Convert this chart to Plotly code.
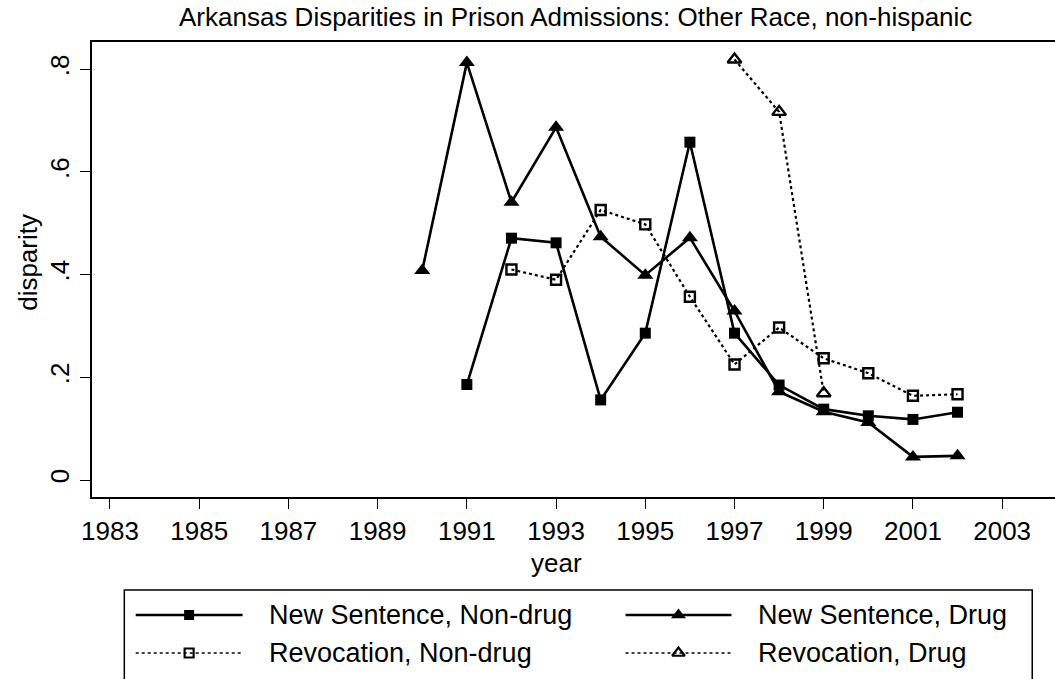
import plotly.graph_objects as go

# ---------------- data ----------------
years_ns_nd = [1991, 1992, 1993, 1994, 1995, 1996, 1997, 1998, 1999, 2000, 2001, 2002]
ns_nondrug = [0.186, 0.471, 0.462, 0.156, 0.286, 0.658, 0.286, 0.185, 0.138, 0.125, 0.118, 0.132]

years_ns_d = [1990, 1991, 1992, 1993, 1994, 1995, 1996, 1997, 1998, 1999, 2000, 2001, 2002]
ns_drug = [0.408, 0.813, 0.541, 0.687, 0.474, 0.399, 0.472, 0.329, 0.172, 0.133, 0.112, 0.045, 0.047]

years_rv_nd = [1992, 1993, 1994, 1995, 1996, 1997, 1998, 1999, 2000, 2001, 2002]
rv_nondrug = [0.410, 0.390, 0.526, 0.498, 0.357, 0.225, 0.297, 0.237, 0.208, 0.164, 0.167]

years_rv_d = [1997, 1998, 1999]
rv_drug = [0.819, 0.717, 0.169]

x_ticks = list(range(1983, 2004, 2))
y_ticks = [0, 0.2, 0.4, 0.6, 0.8]
y_tick_labels = ["0", ".2", ".4", ".6", ".8"]

series_names = ["New Sentence, Non-drug", "New Sentence, Drug",
                "Revocation, Non-drug", "Revocation, Drug"]

# ---------------- layout helpers ----------------
W, H = 1055, 679
FONT = "Liberation Sans, Arial, Helvetica, sans-serif"


def px(x):
    return x / W


def py(y):
    return 1 - y / H


styles = [
    dict(dash="solid", width=2.6, symbol="square", size=11, lw=0),
    dict(dash="solid", width=2.6, symbol="triangle-up", size=14, lw=0),
    dict(dash="dot", width=2.2, symbol="square-open", size=10, lw=2.4),
    dict(dash="dot", width=2.2, symbol="triangle-up-open", size=12, lw=2.4),
]
data = [(years_ns_nd, ns_nondrug), (years_ns_d, ns_drug),
        (years_rv_nd, rv_nondrug), (years_rv_d, rv_drug)]

fig = go.Figure()
for (xs, ys), st, name in zip(data, styles, series_names):
    fig.add_trace(go.Scatter(
        x=xs, y=ys, mode="lines+markers", name=name, showlegend=False,
        line=dict(color="black", width=st["width"], dash=st["dash"]),
        marker=dict(symbol=st["symbol"], size=st["size"], color="black",
                    line=dict(color="black", width=st["lw"])),
        cliponaxis=False,
    ))

# ---------------- manual legend (Stata style) ----------------
leg_rows = [615, 653]
leg_cols = [(126, 234, 259), (621, 728, 753)]
for i, (name, st) in enumerate(zip(series_names, styles)):
    r, c = divmod(i, 2)
    x0, x1, xt = leg_cols[c]
    yy = leg_rows[r]
    fig.add_trace(go.Scatter(
        x=[px(x0), px((x0 + x1) / 2), px(x1)], y=[py(yy)] * 3, mode="lines",
        line=dict(color="black", width=st["width"] * (0.7 if st["dash"] == "dot" else 1),
                  dash=st["dash"]),
        xaxis="x2", yaxis="y2", showlegend=False, hoverinfo="skip"))
    fig.add_trace(go.Scatter(
        x=[px((x0 + x1) / 2)], y=[py(yy)], mode="markers",
        marker=dict(symbol=st["symbol"], size=st["size"] - 1, color="black",
                    line=dict(color="black", width=st["lw"] * 0.9)),
        xaxis="x2", yaxis="y2", showlegend=False, hoverinfo="skip"))
    fig.add_annotation(x=px(xt), y=py(yy), xref="paper", yref="paper",
                       text=name, showarrow=False, xanchor="left", yanchor="middle",
                       font=dict(family=FONT, size=27, color="black"))

fig.add_shape(type="rect", xref="paper", yref="paper",
              x0=px(114.5), x1=px(1032), y0=py(590), y1=py(730),
              line=dict(color="black", width=1.5), fillcolor="rgba(0,0,0,0)")

# ---------------- titles ----------------
fig.add_annotation(x=px(570), y=py(17), xref="paper", yref="paper",
                   text="Arkansas Disparities in Prison Admissions: Other Race, non-hispanic",
                   showarrow=False, xanchor="center", yanchor="middle",
                   font=dict(family=FONT, size=26, color="black"))
fig.add_annotation(x=px(551), y=py(563), xref="paper", yref="paper",
                   text="year", showarrow=False, xanchor="center", yanchor="middle",
                   font=dict(family=FONT, size=26, color="black"))
fig.add_annotation(x=px(17), y=py(262), xref="paper", yref="paper",
                   text="disparity", showarrow=False, textangle=-90,
                   xanchor="center", yanchor="middle",
                   font=dict(family=FONT, size=26, color="black"))

x_left, x_right = 82.3, 1055
ppy = 45.08
y_top, y_bot = 42, 497
ppv = 513.4

fig.update_layout(
    width=W, height=H,
    margin=dict(l=0, r=0, t=0, b=0),
    paper_bgcolor="white", plot_bgcolor="rgba(0,0,0,0)",
    font=dict(family=FONT, size=26, color="black"),
    showlegend=False,
    xaxis=dict(
        domain=[px(x_left), px(x_right)],
        range=[1983 - (100 - x_left) / ppy, 1983 + (x_right - 100) / ppy],
        tickvals=x_ticks, ticktext=[str(v) for v in x_ticks],
        ticks="outside", ticklen=10, tickwidth=1.3, tickcolor="black",
        showline=True, linecolor="black", linewidth=1.6, mirror=True,
        showgrid=False, zeroline=False,
        tickfont=dict(family=FONT, size=26, color="black"),
    ),
    yaxis=dict(
        domain=[py(y_bot), py(y_top)],
        range=[(480 - y_bot) / ppv, (480 - y_top) / ppv],
        tickvals=y_ticks, ticktext=y_tick_labels, tickangle=-90,
        ticks="outside", ticklen=11, tickwidth=1.3, tickcolor="black",
        showline=True, linecolor="black", linewidth=1.6,
        showgrid=False, zeroline=False,
        tickfont=dict(family=FONT, size=26, color="black"),
    ),
    xaxis2=dict(domain=[0, 1], range=[0, 1], visible=False, anchor="y2",
                fixedrange=True),
    yaxis2=dict(domain=[0, 1], range=[0, 1], visible=False, anchor="x2",
                fixedrange=True),
)

fig.write_html(
    "out.html",
    config={"displayModeBar": False},
    post_script="document.body.style.margin='0';document.body.style.overflow='hidden';",
)
